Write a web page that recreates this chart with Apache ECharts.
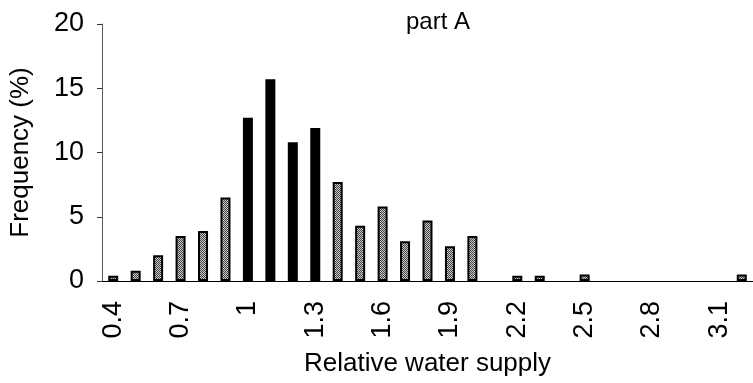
<!DOCTYPE html>
<html>
<head>
<meta charset="utf-8">
<script src="https://cdn.jsdelivr.net/npm/echarts@6/dist/echarts.min.js"></script>
<style>
  html, body { margin: 0; padding: 0; background: #fff; }
  #chart { width: 753px; height: 383px; }
</style>
</head>
<body>
<div id="chart"></div>
<script>
// relative water supply classes
const categories = ['0.4', '0.5', '0.6', '0.7', '0.8', '0.9', '1', '1.1', '1.2', '1.3',
  '1.4', '1.5', '1.6', '1.7', '1.8', '1.9', '2', '2.1', '2.2', '2.3',
  '2.4', '2.5', '2.6', '2.7', '2.8', '2.9', '3', '3.1', '3.2']
// frequency (%)
const frequency = [0.4, 0.8, 2.0, 3.5, 3.9, 6.5, 12.7, 15.7, 10.8, 11.9,
  7.7, 4.3, 5.8, 3.1, 4.7, 2.7, 3.5, 0, 0.4, 0.4,
  0, 0.5, 0, 0, 0, 0, 0, 0, 0.5]
// classes drawn in solid black
const darkClasses = ['1', '1.1', '1.2', '1.3']
const yTicks = [0, 5, 10, 15, 20]

// small dotted fill for the grey bars
const pat = document.createElement('canvas')
pat.width = 2
pat.height = 2
const pctx = pat.getContext('2d')
pctx.fillStyle = '#c8c8c8'
pctx.fillRect(0, 0, 2, 2)
pctx.fillStyle = '#444'
pctx.fillRect(0, 0, 1, 1)
pctx.fillRect(1, 1, 1, 1)

const font = 'Liberation Sans, Arial, sans-serif'
const chart = echarts.init(document.getElementById('chart'))

chart.setOption({
  animation: false,
  title: {
    text: 'part A',
    left: 401,
    top: 5,
    textStyle: { fontFamily: font, fontSize: 24, fontWeight: 'normal', color: '#000' }
  },
  grid: { left: 102, top: 24, width: 661, bottom: 102 },
  xAxis: {
    type: 'category',
    data: categories,
    name: 'Relative water supply',
    nameLocation: 'middle',
    nameGap: 70,
    nameTextStyle: { fontFamily: font, fontSize: 26, color: '#000' },
    axisLine: { lineStyle: { color: '#000', width: 1 } },
    axisTick: { interval: 0, length: 7, lineStyle: { color: '#333' } },
    axisLabel: {
      interval: 2,
      rotate: 90,
      margin: 20,
      fontFamily: font,
      fontSize: 27,
      color: '#000'
    }
  },
  yAxis: {
    type: 'value',
    min: yTicks[0],
    max: yTicks[yTicks.length - 1],
    interval: 5,
    name: 'Frequency (%)',
    nameLocation: 'middle',
    nameGap: 68,
    nameTextStyle: { fontFamily: font, fontSize: 26, color: '#000' },
    splitLine: { show: false },
    axisLine: { show: true, lineStyle: { color: '#555', width: 1 } },
    axisTick: { show: true, length: 5, lineStyle: { color: '#333' } },
    axisLabel: { margin: 18, fontFamily: font, fontSize: 27, color: '#000' }
  },
  series: [
    {
      type: 'bar',
      barWidth: 10,
      // empty classes are left out so no stub is drawn on the axis
      data: frequency.map((v) => (v > 0 ? v : '-')),
      itemStyle: {
        borderColor: '#000',
        borderWidth: 2,
        color: function (p) {
          return darkClasses.includes(p.name) ? '#000' : { image: pat, repeat: 'repeat' }
        }
      }
    }
  ]
})
</script>
</body>
</html>
